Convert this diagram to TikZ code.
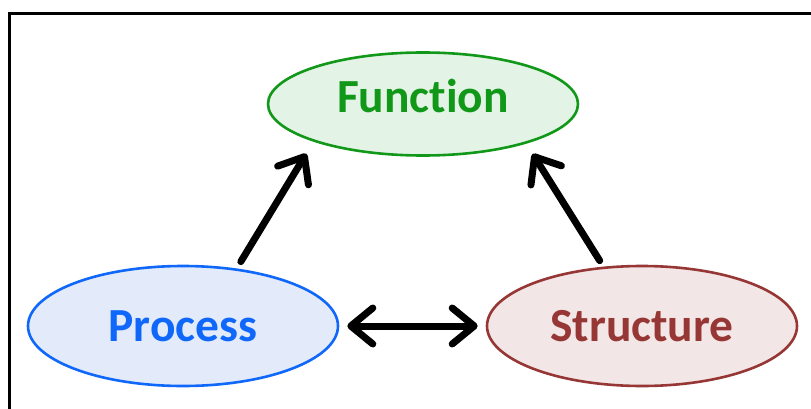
\documentclass[tikz,border=0pt]{standalone}
\usepackage{fontspec}
\setmainfont{Carlito}[Ligatures=NoCommon]
\usetikzlibrary{shapes.geometric, arrows.meta, positioning}

\definecolor{fungreen}{RGB}{18,152,24}
\definecolor{funfill}{RGB}{227,243,230}
\definecolor{problue}{RGB}{16,104,250}
\definecolor{profill}{RGB}{227,235,250}
\definecolor{strred}{RGB}{150,55,53}
\definecolor{strfill}{RGB}{242,230,230}

\begin{document}
\begin{tikzpicture}[x=1pt, y=-1pt,
    stage/.style={ellipse, line width=2.6pt, inner sep=0pt,
                  minimum width=310pt, minimum height=120pt,
                  font=\fontsize{47.5}{57}\selectfont\bfseries},
    barb/.tip={Straight Barb[length=22pt, width=36pt, round]},
    link/.style={line width=7pt, line cap=round, -barb}]
\useasboundingbox (0,0) rectangle (811,409);
\draw[line width=3pt] (9.5,409) -- (9.5,13.5) -- (811,13.5);

\node[stage, draw=fungreen, fill=funfill, text=fungreen,
      minimum height=103pt, text depth=16pt] (function) at (423,104) {Function};
\node[stage, draw=problue, fill=profill, text=problue] (process) at (183,326) {Process};
\node[stage, draw=strred, fill=strfill, text=strred] (structure) at (642,326) {Structure};

\draw[link, shorten <=8pt, shorten >=14pt] (process.47) -- (function.199);
\draw[link, shorten <=7pt, shorten >=12pt] (structure.123) -- (function.339);
\draw[link, barb-barb, shorten <=8pt, shorten >=8pt] (process.east) -- (structure.west);
\end{tikzpicture}
\end{document}
